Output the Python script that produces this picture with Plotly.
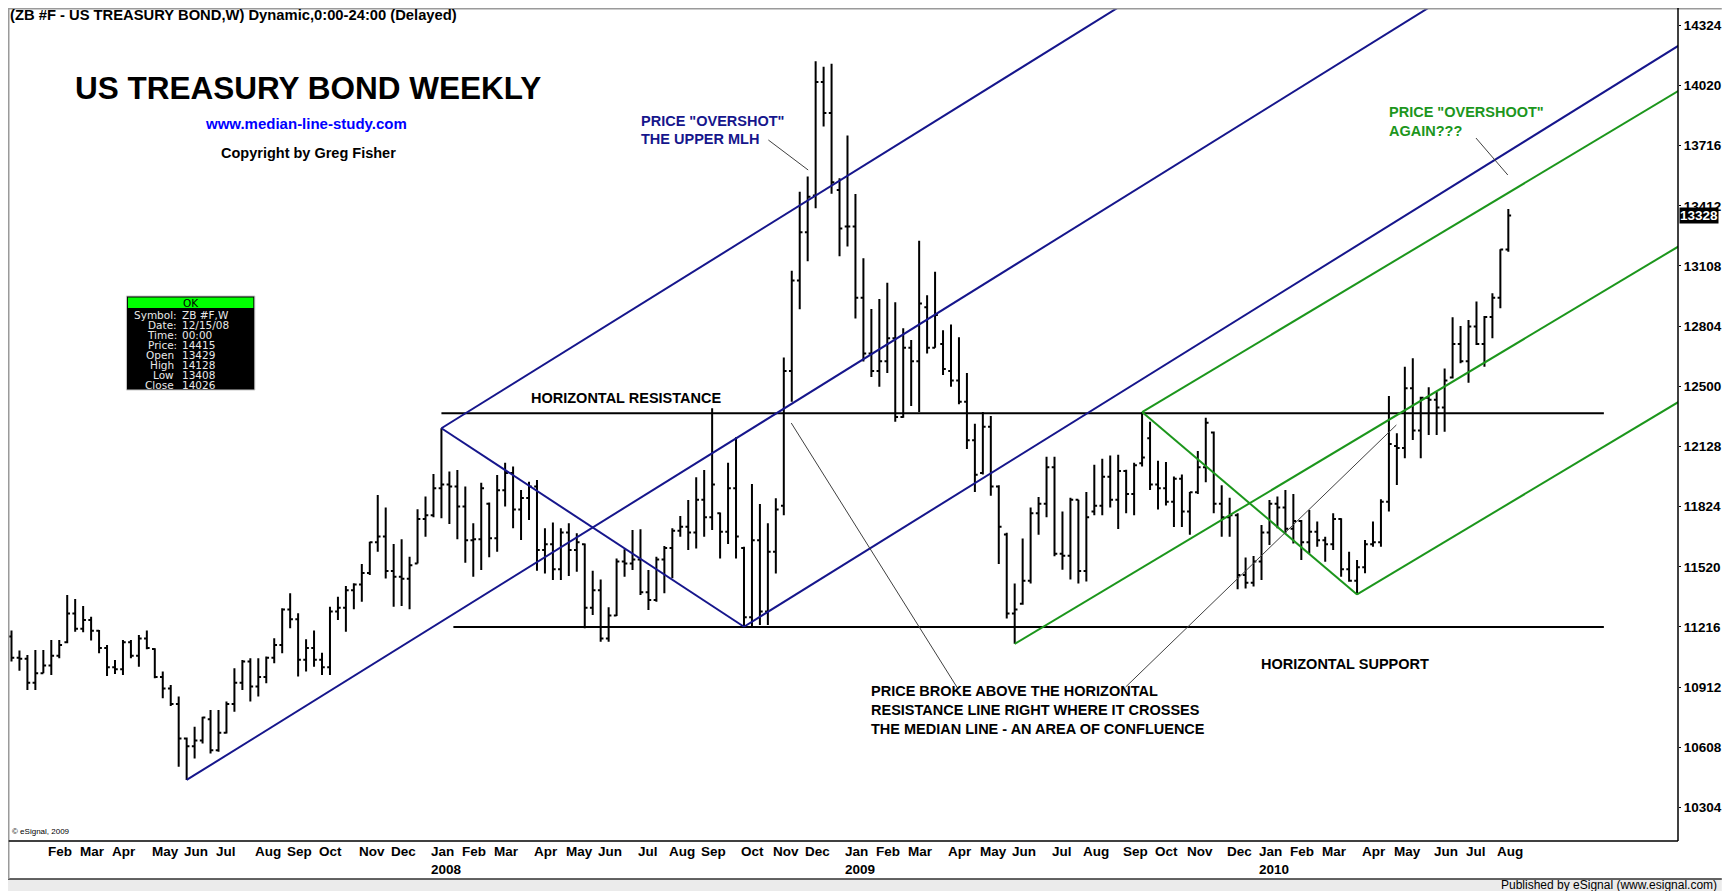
import pandas as pd
import plotly.graph_objects as go

# ---------------------------------------------------------------- data
FIRST_WEEK = "2007-01-08"   # weekly bars, dated by the Monday of each week

OPEN = [
    112.0, 110.9, 110.85, 109.6, 110.1, 110.5, 111.0, 111.7, 113.2, 112.4,
    112.86, 112.3, 111.4, 110.4, 110.3, 111.7, 111.0, 111.9, 111.35, 109.9,
    109.3, 108.5, 106.7, 106.3, 106.6, 107.7, 106.1, 107.0, 108.5, 109.6,
    110.7, 109.4, 109.9, 110.9, 111.56, 113.4, 112.9, 110.8, 111.4, 110.8,
    110.4, 113.3, 113.5, 114.4, 114.7, 115.3, 116.9, 117.2, 115.4, 115.1,
    115.0, 115.8, 118.1, 118.3, 119.7, 119.9, 119.8, 118.75, 117.0, 117.05,
    118.9, 117.1, 119.6, 120.5, 118.6, 119.2, 119.8, 116.5, 116.8, 115.5,
    117.4, 116.5, 116.8, 113.5, 114.4, 111.9, 113.1, 115.9, 115.8, 116.0,
    114.3, 113.9, 116.0, 116.6, 117.5, 117.7, 117.4, 119.1, 118.2, 118.4,
    117.45, 119.7, 116.6, 113.0, 117.0, 113.3, 116.4, 118.8, 125.8, 130.5,
    133.0, 134.91, 140.8, 139.2, 135.2, 133.3, 133.3, 129.6, 126.7, 125.8,
    126.3, 127.5, 123.4, 127.0, 126.3, 129.1, 127.0, 127.2, 125.8, 125.3,
    124.2, 122.2, 120.5, 122.9, 119.8, 117.3, 113.2, 113.7, 114.9, 118.4,
    118.9, 120.8, 116.3, 116.2, 119.1, 115.4, 118.5, 118.8, 120.3, 119.1,
    120.6, 119.4, 121.0, 122.3, 119.9, 119.7, 119.0, 120.2, 118.5, 119.5,
    120.8, 122.6, 118.9, 118.2, 118.3, 115.2, 114.8, 115.9, 117.4, 118.9,
    118.7, 117.6, 118.0, 116.9, 117.45, 117.0, 116.8, 118.1, 115.5, 114.9,
    115.6, 116.8, 116.9, 119.0, 121.9, 121.8, 124.9, 122.7, 124.4, 124.3,
    123.9, 125.45, 127.2, 126.3, 128.1, 127.2, 128.6, 129.6, 132.1,
]
HIGH = [
    112.31, 111.27, 111.04, 111.30, 111.30, 111.82, 111.82, 114.16, 113.95, 113.59,
    113.03, 112.34, 111.56, 110.78, 111.82, 111.82, 112.08, 112.31, 111.39, 110.18,
    109.48, 108.88, 106.76, 107.32, 107.84, 108.19, 108.19, 108.62, 110.35, 110.78,
    110.87, 110.87, 110.96, 111.91, 113.47, 114.25, 113.21, 111.86, 112.31, 111.16,
    113.55, 114.07, 114.63, 114.77, 115.77, 116.93, 119.35, 118.71, 116.81, 117.05,
    116.15, 118.61, 119.27, 120.45, 122.82, 120.57, 120.65, 119.79, 117.88, 119.99,
    118.96, 120.39, 121.03, 120.83, 119.61, 120.04, 120.13, 117.62, 117.92, 117.62,
    117.88, 117.36, 116.84, 115.42, 114.97, 113.52, 116.06, 116.53, 117.54, 117.57,
    115.46, 116.15, 116.70, 117.62, 118.26, 119.09, 120.27, 120.65, 123.86, 118.44,
    121.03, 122.35, 116.67, 119.92, 118.89, 117.88, 119.18, 126.5, 131.0, 135.1,
    135.9, 141.88, 141.6, 141.75, 135.80, 138.03, 134.99, 131.65, 129.02, 129.53,
    130.38, 129.37, 128.01, 127.41, 132.56, 129.73, 130.95, 127.91, 128.21, 127.55,
    125.69, 123.05, 123.66, 123.46, 119.86, 117.39, 114.76, 117.09, 118.70, 119.25,
    121.34, 121.34, 118.50, 119.21, 119.11, 119.51, 120.93, 121.23, 121.40, 121.44,
    120.67, 121.03, 123.66, 123.16, 121.13, 121.07, 120.32, 120.42, 119.51, 121.64,
    123.36, 122.65, 119.86, 119.21, 118.40, 116.10, 116.18, 117.80, 119.09, 119.27,
    119.61, 119.41, 118.06, 118.57, 117.97, 117.19, 118.40, 118.14, 116.41, 115.98,
    117.02, 117.97, 119.13, 124.50, 122.56, 126.02, 126.45, 124.46, 124.95, 124.72,
    125.93, 128.58, 128.13, 128.44, 129.40, 128.65, 129.83, 132.12, 134.21,
]
LOW = [
    110.70, 110.23, 109.22, 109.22, 110.09, 110.00, 110.87, 111.65, 112.25, 112.22,
    111.79, 111.13, 109.95, 110.06, 110.00, 110.87, 110.43, 111.34, 109.83, 108.79,
    108.39, 105.24, 104.55, 105.67, 106.45, 105.93, 106.02, 106.97, 108.10, 109.22,
    108.62, 108.88, 109.57, 110.61, 111.13, 112.43, 109.92, 110.18, 110.43, 110.00,
    110.00, 112.86, 112.25, 113.42, 113.81, 115.20, 116.41, 115.02, 113.55, 113.59,
    113.42, 115.80, 117.19, 118.20, 118.14, 117.85, 117.05, 115.84, 115.11, 115.46,
    116.12, 116.41, 118.75, 117.62, 117.02, 118.05, 115.42, 115.28, 114.94, 114.94,
    115.15, 115.37, 112.43, 113.12, 111.73, 111.73, 113.07, 115.11, 115.46, 114.16,
    113.38, 113.81, 114.25, 115.03, 117.19, 116.50, 116.58, 117.19, 117.54, 116.06,
    116.81, 116.06, 112.51, 112.55, 112.60, 112.60, 115.28, 118.3, 124.2, 129.0,
    131.5, 134.25, 138.5, 135.0, 131.76, 132.26, 128.52, 126.29, 125.48, 124.98,
    125.69, 123.16, 123.36, 123.97, 123.66, 126.70, 127.00, 125.58, 124.98, 124.07,
    121.74, 119.51, 120.42, 119.31, 115.77, 112.94, 111.62, 113.65, 114.76, 117.29,
    118.20, 116.17, 115.47, 114.96, 114.76, 114.86, 118.30, 118.30, 118.70, 117.59,
    118.40, 118.30, 120.83, 119.61, 118.60, 118.81, 117.69, 117.69, 117.29, 119.41,
    120.02, 118.40, 117.19, 117.19, 114.46, 114.50, 114.60, 114.94, 116.76, 117.62,
    117.36, 116.84, 115.98, 116.32, 116.67, 115.89, 116.50, 115.11, 114.85, 114.19,
    115.29, 116.67, 116.67, 118.49, 119.87, 121.26, 122.21, 121.26, 122.47, 122.47,
    122.64, 125.41, 126.20, 125.19, 127.15, 126.02, 127.49, 129.05, 131.99,
]
CLOSE = [
    110.9, 110.85, 109.6, 110.1, 110.5, 111.0, 111.56, 113.2, 112.4, 112.86,
    112.3, 111.4, 110.4, 110.3, 111.7, 111.0, 111.9, 111.4, 109.9, 109.3,
    108.5, 106.7, 106.3, 106.6, 107.8, 106.1, 107.0, 108.5, 109.6, 110.7,
    109.4, 109.9, 110.9, 111.56, 113.4, 112.9, 110.8, 111.4, 110.8, 110.4,
    113.3, 113.5, 114.4, 114.7, 115.3, 116.9, 117.2, 115.4, 115.1, 115.0,
    115.7, 118.1, 118.3, 119.7, 119.9, 119.8, 118.75, 117.0, 117.05, 119.7,
    117.1, 119.6, 120.5, 118.6, 119.2, 119.8, 116.5, 116.8, 115.5, 117.4,
    116.5, 116.9, 113.5, 114.4, 111.9, 113.1, 115.9, 115.8, 116.0, 114.3,
    113.9, 116.0, 116.6, 117.5, 117.7, 117.4, 119.1, 118.2, 119.9, 117.45,
    119.7, 117.2, 113.0, 117.0, 113.3, 116.4, 118.6, 125.8, 130.5, 133.0,
    134.85, 140.81, 139.2, 135.6, 133.2, 133.3, 129.6, 126.7, 125.8, 126.3,
    127.5, 123.4, 127.0, 126.3, 129.3, 127.0, 128.7, 125.9, 125.3, 124.2,
    122.2, 120.4, 122.9, 119.8, 117.7, 113.2, 113.4, 114.9, 118.4, 118.9,
    120.8, 116.3, 116.2, 119.1, 115.4, 118.2, 118.8, 120.3, 119.1, 120.6,
    119.4, 120.9, 121.3, 119.9, 119.7, 119.0, 120.2, 118.5, 119.5, 120.8,
    123.1, 118.9, 118.2, 118.3, 115.2, 114.8, 115.9, 117.4, 118.9, 118.7,
    117.6, 118.0, 116.9, 117.45, 117.0, 116.8, 118.1, 115.5, 114.9, 115.6,
    116.8, 116.9, 119.0, 122.0, 121.8, 124.9, 122.7, 124.4, 124.3, 123.9,
    125.3, 127.2, 126.3, 128.1, 127.2, 128.6, 129.6, 132.1, 133.875,
]
DATES = pd.date_range(FIRST_WEEK, periods=len(CLOSE), freq="7D")

# price scale (bond points, labels in 32nds)
Y_TICK_VALUES = [103.125, 106.25, 109.375, 112.5, 115.625, 118.75, 121.875,
                 125.0, 128.125, 131.25, 134.375, 137.5, 140.625, 143.75]
Y_TICK_LABELS = ["10304", "10608", "10912", "11216", "11520", "11824", "12128",
                 "12500", "12804", "13108", "13412", "13716", "14020", "14324"]
LAST_PRICE_LABEL = "13328"
MONTH_NAMES = ["Jan", "Feb", "Mar", "Apr", "May", "Jun",
               "Jul", "Aug", "Sep", "Oct", "Nov", "Dec"]
FIRST_LABELLED_MONTH = (2007, 2)

# pitchfork pivots: (bar index, which extreme)
BLUE_FORK = [(22, "low"), (54, "high"), (92, "low")]
GREEN_FORK = [(126, "low"), (142, "high"), (169, "low")]
RESISTANCE = 123.6
SUPPORT = 112.5
RESISTANCE_BARS = (54, 200)
SUPPORT_BARS = (55.5, 200)

INFO_ROWS = [("Symbol:", "ZB #F,W"), ("Date:", "12/15/08"), ("Time:", "00:00"),
             ("Price:", "14415"), ("Open", "13429"), ("High", "14128"),
             ("Low", "13408"), ("Close", "14026")]

# ---------------------------------------------------------------- layout constants
# page pixels; the plot div is pinned to the top-left corner of the window
PAGE_W, PAGE_H = 1730, 891
PL, PR, PT, PB = 9, 1686, 8, 841
X_RANGE_BARS = (-0.3125, 209.31)
Y_RANGE = (101.38, 144.65)
FONT = "Liberation Sans"
NAVY = "#16168c"
GREEN = "#1c961c"


def wk(i):
    return DATES[0] + pd.Timedelta(days=7 * i)


def pp(x, y):
    return (x - PL) / (PR - PL), (PB - y) / (PB - PT)


fig = go.Figure()


def fork(pivots, color):
    pts = [(i, LOW[i] if k == "low" else HIGH[i]) for i, k in pivots]
    (ia, pa), (ib, pb), (ic, pc) = pts
    im, pm = (ib + ic) / 2, (pb + pc) / 2
    slope = (pm - pa) / (im - ia)
    end = 230
    segs = [((ia, pa), (end, pa + slope * (end - ia))),
            ((ib, pb), (end, pb + slope * (end - ib))),
            ((ic, pc), (end, pc + slope * (end - ic))),
            ((ib, pb), (ic, pc))]
    for (i0, p0), (i1, p1) in segs:
        fig.add_trace(go.Scatter(x=[wk(i0), wk(i1)], y=[p0, p1], mode="lines",
                                 line=dict(color=color, width=2),
                                 hoverinfo="skip", showlegend=False))


for level, (a, b) in [(RESISTANCE, RESISTANCE_BARS), (SUPPORT, SUPPORT_BARS)]:
    fig.add_trace(go.Scatter(x=[wk(a), wk(b)], y=[level, level], mode="lines",
                             line=dict(color="black", width=2),
                             hoverinfo="skip", showlegend=False))

fork(BLUE_FORK, NAVY)
fork(GREEN_FORK, GREEN)

fig.add_trace(go.Ohlc(x=DATES, open=OPEN, high=HIGH, low=LOW, close=CLOSE,
                      increasing=dict(line=dict(color="black", width=2)),
                      decreasing=dict(line=dict(color="black", width=2)),
                      tickwidth=0.35, hoverinfo="skip", showlegend=False))

# width is fixed; height comes from the (fixed, full-window) plot div
fig.update_layout(
    width=PAGE_W,
    margin=dict(l=PL, r=PAGE_W - PR, t=PT, b=PAGE_H - PB, pad=0),
    paper_bgcolor="white", plot_bgcolor="white",
    showlegend=False,
    xaxis=dict(type="date", range=[wk(X_RANGE_BARS[0]), wk(X_RANGE_BARS[1])],
               showgrid=False, zeroline=False, showticklabels=False, ticks="",
               showline=False, rangeslider=dict(visible=False), fixedrange=True),
    yaxis=dict(side="right", range=list(Y_RANGE), tickvals=Y_TICK_VALUES,
               ticktext=[f"<b>{t}</b>" for t in Y_TICK_LABELS], showgrid=False,
               zeroline=False, ticks="outside", ticklen=2, tickcolor="black",
               showline=False,
               tickfont=dict(family=FONT, size=13.5, color="black"), fixedrange=True),
)

shapes = []


def line_px(x0, y0, x1, y1, color="black", width=1.0):
    a, b = pp(x0, y0)
    c, d = pp(x1, y1)
    shapes.append(dict(type="line", xref="paper", yref="paper", x0=a, y0=b, x1=c, y1=d,
                       line=dict(color=color, width=width), layer="above"))


def rect_px(x0, y0, x1, y1, fill, border=None, width=1.0):
    a, b = pp(x0, y0)
    c, d = pp(x1, y1)
    shapes.append(dict(type="rect", xref="paper", yref="paper", x0=a, y0=b, x1=c, y1=d,
                       fillcolor=fill, layer="above",
                       line=dict(color=border or fill, width=width if border else 0)))


# frame
rect_px(8, 879, PAGE_W, PAGE_H, "#ebebeb")
line_px(8, 879, PAGE_W, 879, "#303030", 1.5)
line_px(8, 8.75, PAGE_W, 8.75, "#9a9a9a", 1.5)
line_px(8.75, 8.75, 8.75, 879, "#9a9a9a", 1.5)
line_px(PR, PT, PR, PB, "black", 1.5)
line_px(8.75, PB, PR, PB, "black", 1.5)

# pointer lines
line_px(772, 140, 812, 170, "#404040", 1)
line_px(1483, 138, 1515, 175, "#404040", 1)
line_px(795, 423, 962, 688, "#404040", 1)
line_px(1131, 687, 1403, 425, "#404040", 1)

# info box
rect_px(127, 296, 256, 390, "black", "#c8c8c8", 1)
rect_px(128.5, 297.5, 254.5, 308, "#00ff00")
fig.update_layout(shapes=shapes)


def text(x, y, s, size, color="black", anchor="left", bold=True, family=FONT):
    xp, yp = pp(x, y)
    fig.add_annotation(x=xp, y=yp, xref="paper", yref="paper",
                       text=f"<b>{s}</b>" if bold else s, showarrow=False,
                       xanchor=anchor, yanchor="middle",
                       font=dict(family=family, size=size, color=color))


text(8, 15.5, "(ZB #F - US TREASURY BOND,W) Dynamic,0:00-24:00 (Delayed)", 14.75)
text(309, 88, "US TREASURY BOND WEEKLY", 31.5, anchor="center")
text(307, 123, "www.median-line-study.com", 15, "#0000ff", anchor="center")
text(310, 153, "Copyright by Greg Fisher", 14.5, anchor="center")
text(642, 121, 'PRICE "OVERSHOT"', 14.5, NAVY)
text(642, 139, "THE UPPER MLH", 14.5, NAVY)
text(1394, 112, 'PRICE "OVERSHOOT"', 14.5, GREEN)
text(1394, 131, "AGAIN???", 14.5, GREEN)
text(531, 398, "HORIZONTAL RESISTANCE", 14.5)
text(1265, 664, "HORIZONTAL SUPPORT", 14.5)
text(873, 691, "PRICE BROKE ABOVE THE HORIZONTAL", 14.5)
text(873, 710, "RESISTANCE LINE RIGHT WHERE IT CROSSES", 14.5)
text(873, 729, "THE MEDIAN LINE - AN AREA OF CONFLUENCE", 14.5)
text(10, 831, "© eSignal, 2009", 8, bold=False)
text(1727, 885, "Published by eSignal (www.esignal.com)", 12, anchor="right", bold=False)

# info box text
text(191.5, 302.5, "OK", 10.5, "black", anchor="center", bold=False, family="DejaVu Sans")
for k, (lab, val) in enumerate(INFO_ROWS):
    yy = 315.0 + k * 9.95
    rx = 180.0 if lab.endswith(":") else 176.5
    text(rx, yy, lab, 10.5, "#e8e8e8", anchor="right", bold=False, family="DejaVu Sans")
    text(181.0, yy, val, 10.5, "#e8e8e8", anchor="left", bold=False, family="DejaVu Sans")

# month / year labels under the bars
seen = set()
for d in DATES:
    key = (d.year, d.month)
    if key in seen or key < FIRST_LABELLED_MONTH:
        seen.add(key)
        continue
    seen.add(key)
    fig.add_annotation(x=d, xref="x", y=pp(0, 851)[1], yref="paper",
                       text=f"<b>{MONTH_NAMES[d.month - 1]}</b>", showarrow=False,
                       xanchor="left", yanchor="middle", xshift=3,
                       font=dict(family=FONT, size=13.5, color="black"))
    if d.month == 1:
        fig.add_annotation(x=d, xref="x", y=pp(0, 869)[1], yref="paper",
                           text=f"<b>{d.year}</b>", showarrow=False,
                           xanchor="left", yanchor="middle", xshift=3,
                           font=dict(family=FONT, size=13.5, color="black"))

# last price marker on the price scale
fig.add_annotation(x=1, xref="paper", y=CLOSE[-1], yref="y", text=f"<b>{LAST_PRICE_LABEL}</b>",
                   showarrow=False, xanchor="left", yanchor="middle", xshift=1,
                   bgcolor="black", borderpad=0,
                   font=dict(family=FONT, size=13.5, color="white"))

# the plot div is pinned to the window's top-left corner at exactly the window size,
# so the body margin neither shifts it nor adds scrollbars
fig.write_html("out.html", config={"displayModeBar": False},
               default_height=f"{PAGE_H}px;position:fixed;left:0px;top:0px")
